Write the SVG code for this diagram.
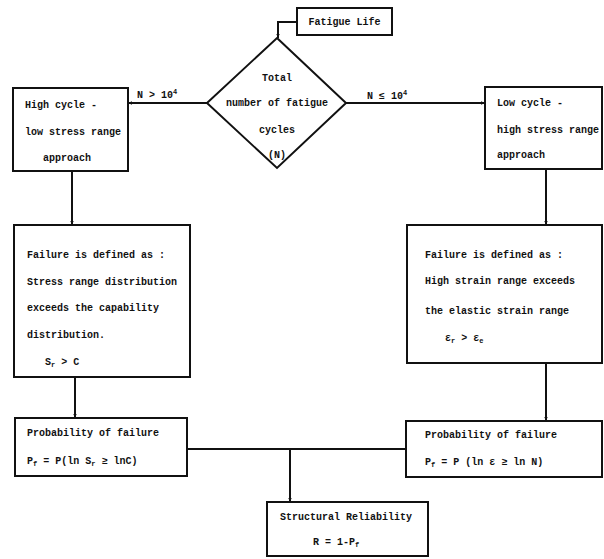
<svg xmlns="http://www.w3.org/2000/svg" width="604" height="559" viewBox="0 0 604 559">
<defs>
<marker id="ah" markerWidth="5" markerHeight="5" refX="4" refY="2.5" orient="auto" markerUnits="userSpaceOnUse">
<path d="M0,0.8 L4,2.5 L0,4.2 Z" fill="#111"/>
</marker>
<style>
.box{fill:#fff;stroke:#111;stroke-width:2}
.ln{fill:none;stroke:#111;stroke-width:2}
text{font-family:"Liberation Mono","DejaVu Sans Mono",monospace;font-size:10px;font-weight:bold;fill:#111}
.c{text-anchor:middle}
</style>
</defs>
<rect width="604" height="559" fill="#fff"/>
<g id="connectors">
<path class="ln" d="M297,22 H278 V38" marker-end="url(#ah)"/>
<path class="ln" d="M207,103 H128" marker-end="url(#ah)"/>
<path class="ln" d="M346,103 H485" marker-end="url(#ah)"/>
<path class="ln" d="M72,171 V225" marker-end="url(#ah)"/>
<path class="ln" d="M546,169 V225" marker-end="url(#ah)"/>
<path class="ln" d="M75,377 V418" marker-end="url(#ah)"/>
<path class="ln" d="M546,363 V421" marker-end="url(#ah)"/>
<path class="ln" d="M187,449 H406"/>
<path class="ln" d="M290,449 V502" marker-end="url(#ah)"/>
<text x="137" y="98">N &gt; 10<tspan font-size="7" dy="-4">4</tspan></text>
<text x="367" y="99">N ≤ 10<tspan font-size="7" dy="-4">4</tspan></text>
</g>
<g id="fatigue-life">
<rect class="box" x="297" y="8" width="95" height="27"/>
<text class="c" x="344.5" y="25">Fatigue Life</text>
</g>
<g id="decision">
<path class="box" d="M277,38 L346,103 L277,168 L207,103 Z"/>
<text class="c" x="277" y="81">Total</text>
<text class="c" x="277" y="106">number of fatigue</text>
<text class="c" x="277" y="133">cycles</text>
<text class="c" x="277" y="158">(N)</text>
</g>
<g id="high-cycle">
<rect class="box" x="13" y="88" width="115" height="83"/>
<text x="25" y="108">High cycle -</text>
<text x="25" y="135">low stress range</text>
<text class="c" x="67" y="161">approach</text>
</g>
<g id="low-cycle">
<rect class="box" x="485" y="87" width="117" height="82"/>
<text x="497" y="106">Low cycle -</text>
<text x="497" y="133">high stress range</text>
<text x="497" y="158">approach</text>
</g>
<g id="failure-left">
<rect class="box" x="14" y="225" width="176" height="152"/>
<text x="27" y="258">Failure is defined as :</text>
<text x="27" y="285">Stress range distribution</text>
<text x="27" y="311">exceeds the capability</text>
<text x="27" y="338">distribution.</text>
<text x="45" y="365">S<tspan font-size="7" dy="2">r</tspan><tspan dy="-2"> &gt; C</tspan></text>
</g>
<g id="failure-right">
<rect class="box" x="407" y="225" width="195" height="138"/>
<text x="425" y="258">Failure is defined as :</text>
<text x="425" y="284">High strain range exceeds</text>
<text x="425" y="314">the elastic strain range</text>
<text x="445" y="341">ε<tspan font-size="7" dy="2">r</tspan><tspan dy="-2"> &gt; ε</tspan><tspan font-size="7" dy="2">e</tspan></text>
</g>
<g id="prob-left">
<rect class="box" x="15" y="418" width="172" height="58"/>
<text x="27" y="436">Probability of failure</text>
<text x="27" y="464">P<tspan font-size="7" dy="2">f</tspan><tspan dy="-2"> = P(ln S</tspan><tspan font-size="7" dy="2">r</tspan><tspan dy="-2"> ≥ lnC)</tspan></text>
</g>
<g id="prob-right">
<rect class="box" x="406" y="421" width="196" height="56"/>
<text x="425" y="438">Probability of failure</text>
<text x="425" y="465">P<tspan font-size="7" dy="2">f</tspan><tspan dy="-2"> = P (ln ε ≥ ln N)</tspan></text>
</g>
<g id="reliability">
<rect class="box" x="267" y="502" width="161" height="54"/>
<text x="280" y="520">Structural Reliability</text>
<text x="313" y="545">R = 1-P<tspan font-size="7" dy="2">f</tspan></text>
</g>
</svg>
